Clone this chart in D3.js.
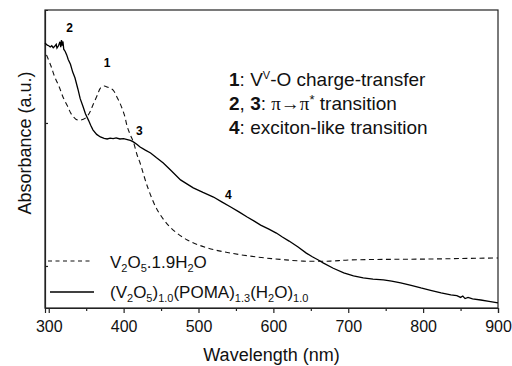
<!DOCTYPE html>
<html>
<head>
<meta charset="utf-8">
<script src="https://cdn.jsdelivr.net/npm/d3@7"></script>
<style>
  body { margin: 0; background: #fff; }
  svg { display: block; font-family: Arial, "Liberation Sans", sans-serif; }
</style>
</head>
<body>
<div id="chart"></div>
<script>
// Data
const dashedNm = [297, 303, 308, 314, 319, 325, 331, 339, 349, 355, 359, 365, 369, 374, 378, 382, 386, 391, 395, 401, 405, 409, 413, 418, 422, 432, 445, 462, 485, 512, 543, 579, 609, 640, 676, 702, 750, 801, 850, 900];
const dashedAbs = [1.238, 1.199, 1.161, 1.126, 1.091, 1.059, 1.028, 1.010, 1.017, 1.038, 1.063, 1.098, 1.122, 1.129, 1.126, 1.121, 1.115, 1.091, 1.070, 1.028, 0.986, 0.958, 0.934, 0.888, 0.860, 0.776, 0.696, 0.636, 0.591, 0.563, 0.545, 0.531, 0.523, 0.517, 0.517, 0.521, 0.523, 0.524, 0.526, 0.528];

const solidNm = [295, 298, 300, 302, 304, 306, 308, 310, 311, 313, 315, 316, 317, 318, 319, 320, 322, 324, 326, 329, 332, 335, 339, 342, 346, 349, 353, 356, 359, 364, 369, 374, 378, 382, 386, 390, 395, 400, 405, 409, 413, 418, 422, 429, 436, 444, 453, 464, 476, 485, 493, 506, 520, 531, 543, 554, 565, 575, 583, 594, 604, 612, 621, 633, 644, 652, 660, 667, 680, 694, 707, 720, 733, 747, 758, 770, 784, 797, 810, 824, 837, 845, 850, 853, 856, 860, 866, 877, 888, 900];
const solidAbs = [1.280, 1.272, 1.270, 1.266, 1.270, 1.263, 1.268, 1.275, 1.262, 1.270, 1.284, 1.265, 1.290, 1.270, 1.285, 1.258, 1.250, 1.238, 1.222, 1.205, 1.178, 1.158, 1.118, 1.085, 1.056, 1.032, 1.010, 0.992, 0.976, 0.960, 0.951, 0.946, 0.944, 0.947, 0.945, 0.948, 0.944, 0.945, 0.942, 0.939, 0.934, 0.925, 0.916, 0.905, 0.895, 0.878, 0.860, 0.832, 0.801, 0.786, 0.773, 0.757, 0.741, 0.724, 0.706, 0.689, 0.671, 0.656, 0.643, 0.629, 0.615, 0.601, 0.587, 0.566, 0.545, 0.532, 0.521, 0.510, 0.492, 0.476, 0.465, 0.458, 0.454, 0.451, 0.447, 0.441, 0.432, 0.423, 0.415, 0.406, 0.399, 0.396, 0.390, 0.395, 0.386, 0.390, 0.385, 0.381, 0.376, 0.371];

const xMajorTicks = [300, 400, 500, 600, 700, 800, 900];
const xMinorTicks = [350, 450, 550, 650, 750, 850];
const yTicks = [0.5, 1.0];

// peak markers: [label, wavelength, absorbance]
const peakLabels = [['2', 328, 1.318], ['1', 378, 1.196], ['3', 421, 0.958], ['4', 540, 0.734]];

const W = 512, H = 366;
const margin = { top: 10, right: 14, bottom: 58, left: 45 };

const svg = d3.select('#chart').append('svg')
  .attr('width', W)
  .attr('height', H);

const x = d3.scaleLinear().domain([295, 900]).range([margin.left, W - margin.right]);
const y = d3.scaleLinear().domain([0.353, 1.395]).range([H - margin.bottom, margin.top]);

const axisColor = '#222';

// frame top and right
svg.append('rect')
  .attr('x', x.range()[0])
  .attr('y', y.range()[1])
  .attr('width', x.range()[1] - x.range()[0])
  .attr('height', y.range()[0] - y.range()[1])
  .attr('fill', 'none')
  .attr('stroke', axisColor)
  .attr('stroke-width', 1.2);

// x axis
const gx = svg.append('g')
  .attr('transform', `translate(0,${y.range()[0]})`)
  .call(d3.axisBottom(x).tickValues(xMajorTicks).tickSize(5).tickPadding(8).tickFormat(d3.format('d')));
gx.selectAll('text').attr('font-size', 16).attr('fill', '#111').attr('font-family', 'Arial, "Liberation Sans", sans-serif');

const gxm = svg.append('g')
  .attr('transform', `translate(0,${y.range()[0]})`)
  .call(d3.axisBottom(x).tickValues(xMinorTicks).tickSize(3).tickFormat(''));
gxm.select('.domain').remove();

// y axis (ticks point inward, no labels)
svg.append('g')
  .attr('transform', `translate(${x.range()[0]},0)`)
  .call(d3.axisLeft(y).tickValues(yTicks).tickSize(-3).tickFormat(''));

svg.selectAll('.domain, .tick line').attr('stroke', axisColor).attr('stroke-width', 1.2);

// axis titles
svg.append('text')
  .attr('x', (x.range()[0] + x.range()[1]) / 2)
  .attr('y', 361)
  .attr('text-anchor', 'middle')
  .attr('font-size', 18)
  .attr('fill', '#111')
  .text('Wavelength (nm)');

svg.append('text')
  .attr('transform', `translate(31,${(y.range()[0] + y.range()[1]) / 2 - 16}) rotate(-90)`)
  .attr('text-anchor', 'middle')
  .attr('font-size', 18)
  .attr('fill', '#111')
  .text('Absorbance (a.u.)');

// curves
const line = d3.line().x(d => x(d[0])).y(d => y(d[1]));

svg.append('path')
  .datum(dashedNm.map((d, i) => [d, dashedAbs[i]]))
  .attr('d', line.curve(d3.curveCatmullRom))
  .attr('fill', 'none')
  .attr('stroke', '#111')
  .attr('stroke-width', 1.1)
  .attr('stroke-dasharray', '5,3.5');

svg.append('path')
  .datum(solidNm.map((d, i) => [d, solidAbs[i]]))
  .attr('d', line.curve(d3.curveLinear))
  .attr('fill', 'none')
  .attr('stroke', '#000')
  .attr('stroke-width', 1.3);

// peak numbers
svg.selectAll('.peak')
  .data(peakLabels)
  .enter()
  .append('text')
  .attr('class', 'peak')
  .attr('x', d => x(d[1]))
  .attr('y', d => y(d[2]))
  .attr('text-anchor', 'middle')
  .attr('font-size', 12)
  .attr('font-weight', 'bold')
  .text(d => d[0]);

// annotation block
const ann = svg.append('g').attr('font-size', 19).attr('fill', '#111');
const serif = '"Liberation Serif", "DejaVu Serif", serif';

const t1 = ann.append('text').attr('x', 229).attr('y', 86);
t1.append('tspan').attr('font-weight', 'bold').text('1');
t1.append('tspan').text(': V');
t1.append('tspan').attr('font-size', 11).attr('dy', -7).text('V');
t1.append('tspan').attr('dy', 7).text('-O charge-transfer');

const t2 = ann.append('text').attr('x', 229).attr('y', 110);
t2.append('tspan').attr('font-weight', 'bold').text('2');
t2.append('tspan').text(', ');
t2.append('tspan').attr('font-weight', 'bold').text('3');
t2.append('tspan').text(': ');
t2.append('tspan').attr('font-family', serif).text('\u03c0\u2192\u03c0');
t2.append('tspan').attr('font-size', 13).attr('dy', -6).text('*');
t2.append('tspan').attr('dy', 6).text(' transition');

const t3 = ann.append('text').attr('x', 229).attr('y', 134);
t3.append('tspan').attr('font-weight', 'bold').text('4');
t3.append('tspan').text(': exciton-like transition');

// legend
const legend = svg.append('g').attr('font-size', 17).attr('fill', '#111');
legend.append('line')
  .attr('x1', 48).attr('x2', 92).attr('y1', 261).attr('y2', 261)
  .attr('stroke', '#111').attr('stroke-width', 1.1).attr('stroke-dasharray', '4,3.5');
legend.append('line')
  .attr('x1', 50).attr('x2', 94).attr('y1', 292).attr('y2', 292)
  .attr('stroke', '#000').attr('stroke-width', 1.3);

// each part is [text, isSubscript]
function addFormula(sel, parts) {
  let down = false;
  parts.forEach(([txt, sub]) => {
    const ts = sel.append('tspan').text(txt);
    if (sub) {
      ts.attr('font-size', 11).attr('dy', down ? 0 : 4);
      down = true;
    } else {
      ts.attr('dy', down ? -4 : 0);
      down = false;
    }
  });
}

const l1 = legend.append('text').attr('x', 110).attr('y', 268);
addFormula(l1, [['V'], ['2', 1], ['O'], ['5', 1], ['.1.9H'], ['2', 1], ['O']]);

const l2 = legend.append('text').attr('x', 110).attr('y', 298);
addFormula(l2, [['(V'], ['2', 1], ['O'], ['5', 1], [')'], ['1.0', 1], ['(POMA)'], ['1.3', 1], ['(H'], ['2', 1], ['O)'], ['1.0', 1]]);
</script>
</body>
</html>
